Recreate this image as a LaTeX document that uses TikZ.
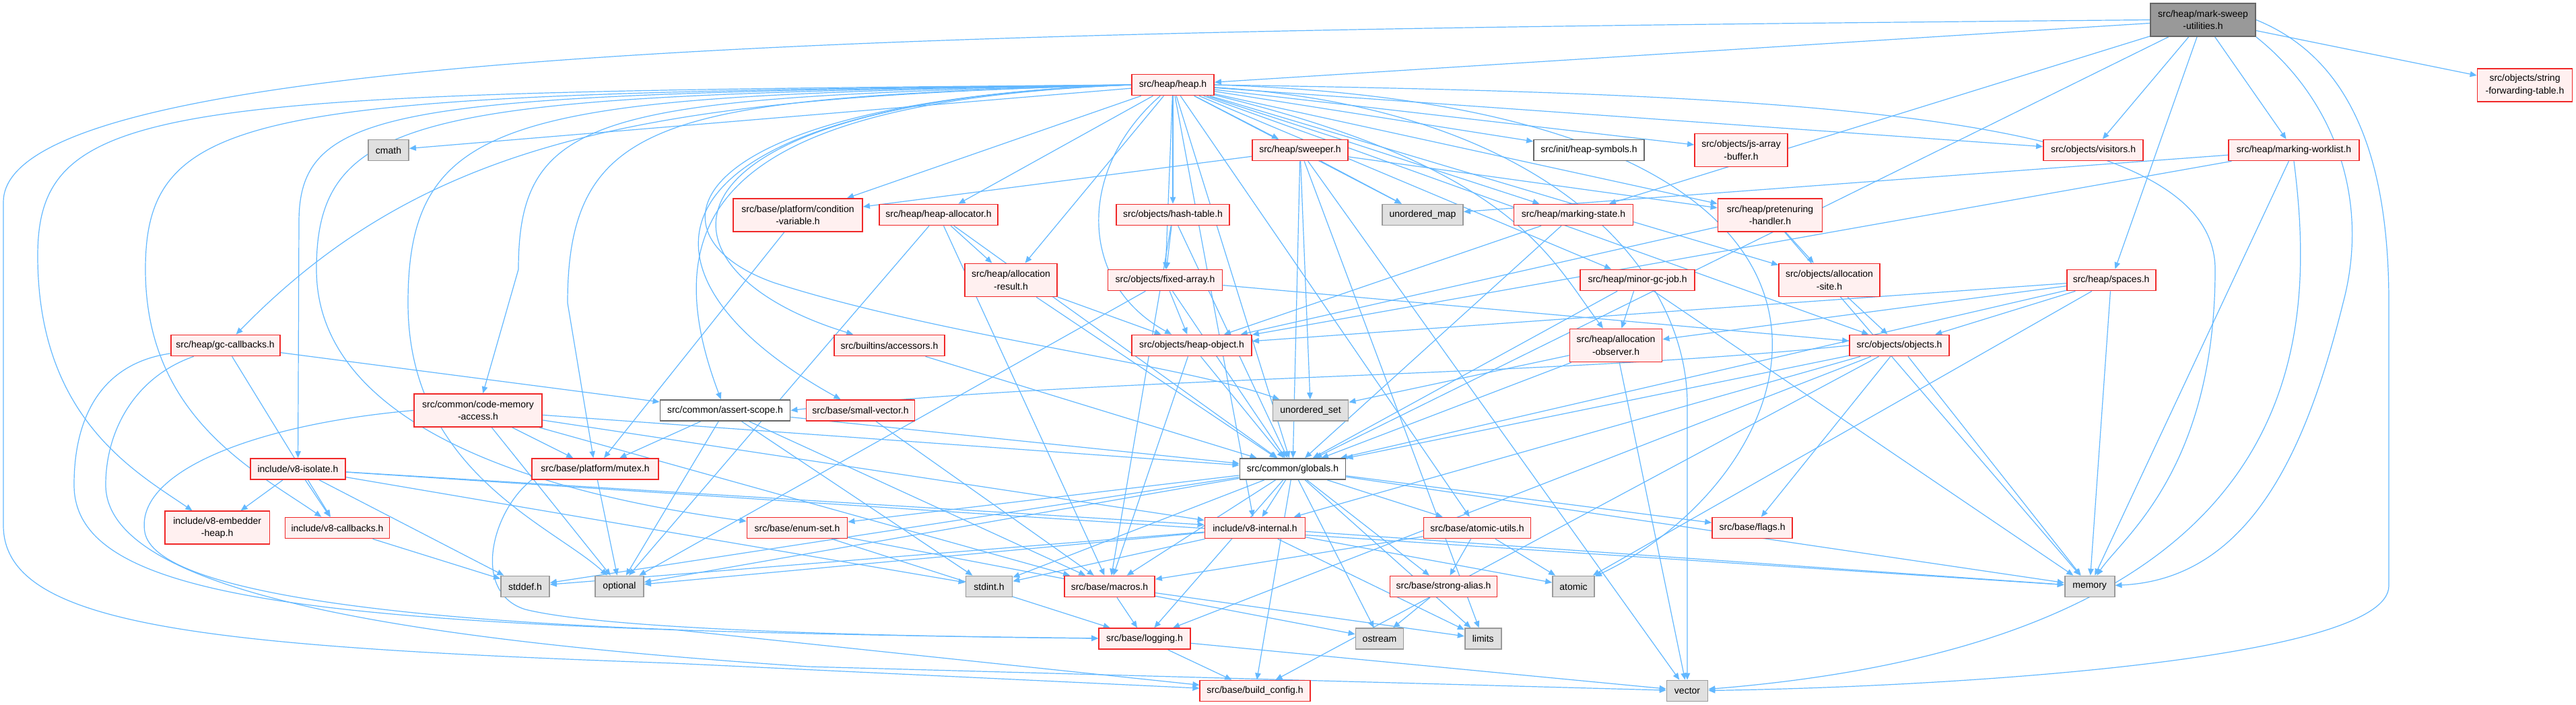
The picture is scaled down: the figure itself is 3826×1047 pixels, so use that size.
\documentclass[tikz,border=0pt]{standalone}
\usepackage{fontspec}
\setmainfont{Liberation Sans}
\usetikzlibrary{arrows.meta,backgrounds}
\definecolor{edgec}{RGB}{99,184,255}
\definecolor{redb}{RGB}{240,40,40}
\definecolor{redf}{RGB}{255,240,240}
\definecolor{grayf}{RGB}{224,224,224}
\definecolor{grayb}{RGB}{153,153,153}
\definecolor{darkb}{RGB}{102,102,102}
\definecolor{rootf}{RGB}{153,153,153}
\begin{document}
\begin{tikzpicture}[x=0.5pt,y=-0.5pt,
  nbase/.style={inner xsep=1pt, inner ysep=0pt, minimum height=15.5pt, align=center, font=\fontsize{7}{9.2}\selectfont, line width=0.9pt},
  rn/.style={nbase, draw=redb, fill=redf},
  gn/.style={nbase, draw=grayb, fill=grayf},
  wn/.style={nbase, draw=darkb, fill=white},
  rootn/.style={nbase, draw=darkb, fill=rootf},
  tl/.style={minimum height=24.5pt},
  mw/.style={minimum width=#1pt},
  e/.style={draw=edgec, line width=0.6pt, -{Triangle[length=5pt,width=4.2pt]}}
]
\useasboundingbox (0,0) rectangle (3826,1047);
% nodes
\node[rootn,tl,mw=78] (ms) at (3272,29.5) {src/heap/mark-sweep\\-utilities.h};
\node[rn,mw=61] (heap) at (1742,126) {src/heap/heap.h};
\node[rn,tl,mw=70.5] (sfwd) at (3750,126.5) {src/objects/string\\-forwarding-table.h};
\node[gn,mw=30] (cmath) at (577,223) {cmath};
\node[rn,mw=71] (sweeper) at (1931,223) {src/heap/sweeper.h};
\node[wn,mw=82] (hsym) at (2360,223) {src/init/heap-symbols.h};
\node[rn,tl,mw=69] (jsab) at (2586,223) {src/objects/js-array\\-buffer.h};
\node[rn,mw=74] (visitors) at (3109,223) {src/objects/visitors.h};
\node[rn,mw=97] (mwl) at (3407,223) {src/heap/marking-worklist.h};
\node[rn,tl,mw=96] (condvar) at (1185,319.5) {src/base/platform/condition\\-variable.h};
\node[rn,mw=88] (halloc) at (1394,319) {src/heap/heap-allocator.h};
\node[rn,mw=84] (hasht) at (1742,319) {src/objects/hash-table.h};
\node[gn,mw=60] (umap) at (2113,319) {unordered\_map};
\node[rn,mw=88.5] (mstate) at (2337,319) {src/heap/marking-state.h};
\node[rn,tl,mw=77.5] (pret) at (2629,319.5) {src/heap/pretenuring\\-handler.h};
\node[rn,tl,mw=68.5] (ares) at (1501.5,416) {src/heap/allocation\\-result.h};
\node[rn,mw=85] (farr) at (1730.5,416) {src/objects/fixed-array.h};
\node[rn,mw=85] (mgc) at (2432,416) {src/heap/minor-gc-job.h};
\node[rn,tl,mw=75] (asite) at (2717,416) {src/objects/allocation\\-site.h};
\node[rn,mw=66] (spaces) at (3135.6,416) {src/heap/spaces.h};
\node[rn,mw=81] (gccb) at (334.6,513) {src/heap/gc-callbacks.h};
\node[rn,mw=82] (acc) at (1321,513) {src/builtins/accessors.h};
\node[rn,mw=89] (hobj) at (1770,513) {src/objects/heap-object.h};
\node[rn,tl,mw=68.5] (aobs) at (2400,513) {src/heap/allocation\\-observer.h};
\node[rn,mw=74] (objs) at (2821,513) {src/objects/objects.h};
\node[rn,tl,mw=95] (cma) at (710,609.5) {src/common/code-memory\\-access.h};
\node[wn,mw=96.5] (ascope) at (1077,609.5) {src/common/assert-scope.h};
\node[rn,mw=80.5] (svec) at (1278,609.5) {src/base/small-vector.h};
\node[gn,mw=56] (uset) at (1946.5,609.5) {unordered\_set};
\node[rn,mw=70.75] (iso) at (442.5,696.5) {include/v8-isolate.h};
\node[rn,mw=93.75] (mutex) at (884,696.5) {src/base/platform/mutex.h};
\node[wn,mw=78.5] (glob) at (1920,696.5) {src/common/globals.h};
\node[rn,tl,mw=77.75] (emb) at (322.7,783.7) {include/v8-embedder\\-heap.h};
\node[rn,mw=77.5] (cbs) at (501,784) {include/v8-callbacks.h};
\node[rn,mw=74.5] (enumset) at (1184,784) {src/base/enum-set.h};
\node[rn,mw=74.5] (v8int) at (1864,784) {include/v8-internal.h};
\node[rn,mw=79.5] (autils) at (2194,784) {src/base/atomic-utils.h};
\node[rn,mw=59.5] (flags) at (2602.6,784) {src/base/flags.h};
\node[gn,mw=36] (stddef) at (780,871) {stddef.h};
\node[gn,mw=36] (opt) at (920,871) {optional};
\node[gn,mw=34.5] (stdint) at (1469,871) {stdint.h};
\node[rn,mw=67] (macros) at (1648,871) {src/base/macros.h};
\node[rn,mw=79.5] (salias) at (2144,871) {src/base/strong-alias.h};
\node[gn,mw=31] (atomic) at (2337,871) {atomic};
\node[gn,mw=37] (memory) at (3103.6,871) {memory};
\node[rn,mw=68] (logging) at (1700,948.7) {src/base/logging.h};
\node[gn,mw=35.5] (ostream) at (2049,948.7) {ostream};
\node[gn,mw=27] (limits) at (2202.7,948.7) {limits};
\node[rn,mw=81.75] (bconf) at (1864,1026) {src/base/build\_config.h};
\node[gn,mw=30.5] (vector) at (2506,1026) {vector};
% edges
\begin{scope}[on background layer]
% mark-sweep-utilities
\draw[e] (ms) -- (heap);
\draw[e] (ms) -- (sfwd);
\draw[e] (ms) -- (visitors);
\draw[e] (ms) -- (mwl);
\draw[e] (ms) -- (mstate);
\draw[e] (ms) -- (spaces);
\draw[e] (ms) -- (glob);
\draw[e] (ms.south east) .. controls (3470,150) and (3520,300) .. (3480,450) .. controls (3430,650) and (3350,860) .. (memory);
\draw[e] (ms.east) .. controls (3500,90) and (3548,250) .. (3548,450) -- (3548,870) .. controls (3548,980) and (2900,1020) .. (vector);
\draw[e] (ms.west) .. controls (1500,45) and (5,60) .. (5,300) -- (5,780) .. controls (5,930) and (300,960) .. (1000,985) -- (bconf);
% heap.h
\draw[e] (heap) -- (cmath);
\draw[e] (heap) -- (sweeper);
\draw[e] (heap) -- (hsym);
\draw[e] (heap) -- (jsab);
\draw[e] (heap) -- (visitors);
\draw[e] (heap) -- (condvar);
\draw[e] (heap) -- (halloc);
\draw[e] (heap) -- (hasht);
\draw[e] (heap) -- (umap);
\draw[e] (heap) -- (mstate);
\draw[e] (heap) -- (pret);
\draw[e] (heap) -- (ares);
\draw[e] (heap) -- (farr);
\draw[e] (heap) -- (mgc);
\draw[e] (heap) -- (asite);
\draw[e] (heap.west) .. controls (1000,145) and (650,190) .. (gccb);
\draw[e] (heap.west) .. controls (950,150) and (950,400) .. (acc);
\draw[e] (heap) .. controls (1600,250) and (1600,420) .. (hobj);
\draw[e] (heap) .. controls (2250,250) and (2300,380) .. (aobs);
\draw[e] (heap) -- (objs);
\draw[e] (heap.west) .. controls (900,145) and (770,160) .. (770,400) -- (cma);
\draw[e] (heap.west) .. controls (1100,150) and (960,300) .. (ascope);
\draw[e] (heap.west) .. controls (950,150) and (900,400) .. (svec);
\draw[e] (heap.west) .. controls (1000,150) and (950,350) .. (1150,420) .. controls (1400,500) and (1750,540) .. (uset);
\draw[e] (heap.west) .. controls (600,140) and (444,150) .. (444,330) -- (iso);
\draw[e] (heap.west) .. controls (1000,146) and (843,165) .. (843,450) -- (mutex);
\draw[e] (heap) -- (glob);
\draw[e] (heap.west) .. controls (250,138) and (56,145) .. (56,380) .. controls (56,620) and (200,700) .. (emb);
\draw[e] (heap.west) .. controls (400,140) and (216,150) .. (216,400) .. controls (216,620) and (380,700) .. (cbs);
\draw[e] (heap.west) .. controls (650,142) and (470,155) .. (470,400) .. controls (470,650) and (850,740) .. (enumset);
\draw[e] (heap) -- (v8int);
\draw[e] (heap) -- (autils);
\draw[e] (heap.east) .. controls (2900,160) and (2700,700) .. (atomic);
\draw[e] (heap.west) .. controls (780,143) and (606,155) .. (606,450) .. controls (606,700) and (820,780) .. (opt);
\draw[e] (heap.east) .. controls (2700,140) and (3290,170) .. (3290,400) .. controls (3290,700) and (3150,800) .. (memory);
\draw[e] (heap) .. controls (2300,160) and (2506,400) .. (2506,600) -- (vector);
% sweeper
\draw[e] (sweeper) -- (condvar);
\draw[e] (sweeper) -- (pret);
\draw[e] (sweeper) -- (umap);
\draw[e] (sweeper) -- (uset);
\draw[e] (sweeper) -- (glob);
\draw[e] (sweeper) -- (limits);
\draw[e] (sweeper) -- (vector);
% marking-worklist
\draw[e] (mwl) -- (umap);
\draw[e] (mwl) -- (hobj);
\draw[e] (mwl) -- (memory);
\draw[e] (mwl.south) .. controls (3440,500) and (3440,950) .. (vector);
% others
\draw[e] (condvar) -- (mutex);
\draw[e] (halloc) -- (ares);
\draw[e] (halloc) -- (glob);
\draw[e] (halloc) -- (macros);
\draw[e] (halloc) -- (opt);
\draw[e] (hasht) -- (farr);
\draw[e] (hasht) -- (glob);
\draw[e] (hasht) -- (macros);
\draw[e] (mstate) -- (hobj);
\draw[e] (mstate) -- (glob);
\draw[e] (pret) -- (asite);
\draw[e] (pret) -- (hobj);
\draw[e] (pret) -- (memory);
\draw[e] (ares) -- (hobj);
\draw[e] (ares) -- (glob);
\draw[e] (farr) -- (hobj);
\draw[e] (farr) -- (objs);
\draw[e] (farr) -- (glob);
\draw[e] (farr) -- (opt);
\draw[e] (mgc) -- (aobs);
\draw[e] (mgc) -- (glob);
\draw[e] (mgc) -- (memory);
\draw[e] (asite) -- (objs);
\draw[e] (spaces) -- (objs);
\draw[e] (spaces) -- (hobj);
\draw[e] (spaces) -- (aobs);
\draw[e] (spaces) -- (glob);
\draw[e] (spaces) -- (atomic);
\draw[e] (spaces) -- (memory);
\draw[e] (gccb) -- (cbs);
\draw[e] (gccb) -- (ascope);
\draw[e] (gccb) .. controls (150,540) and (110,620) .. (110,720) .. controls (110,900) and (500,935) .. (logging);
\draw[e] (gccb) .. controls (200,560) and (157,640) .. (157,720) .. controls (157,880) and (600,950) .. (1200,990) -- (vector);
\draw[e] (acc) -- (glob);
\draw[e] (hobj) -- (glob);
\draw[e] (hobj) -- (macros);
\draw[e] (aobs) -- (uset);
\draw[e] (aobs) -- (glob);
\draw[e] (aobs) -- (vector);
\draw[e] (objs.west) .. controls (2300,560) and (1600,560) .. (ascope.east);
\draw[e] (objs) -- (glob);
\draw[e] (objs) -- (flags);
\draw[e] (objs) -- (v8int);
\draw[e] (objs) -- (logging);
\draw[e] (objs) -- (bconf);
\draw[e] (objs) -- (memory);
\draw[e] (cma) -- (mutex);
\draw[e] (cma) -- (glob);
\draw[e] (cma) -- (opt);
\draw[e] (cma) -- (v8int);
\draw[e] (cma) -- (macros);
\draw[e] (cma.west) .. controls (380,630) and (200,700) .. (215,790) .. controls (230,880) and (600,920) .. (1000,935) -- (bconf);
\draw[e] (ascope) -- (mutex);
\draw[e] (ascope) -- (opt);
\draw[e] (ascope) -- (stdint);
\draw[e] (ascope) -- (macros);
\draw[e] (ascope) -- (glob);
\draw[e] (svec) -- (macros);
\draw[e] (iso) -- (emb);
\draw[e] (iso) -- (cbs);
\draw[e] (iso) -- (stddef);
\draw[e] (iso) -- (stdint);
\draw[e] (iso) -- (memory);
\draw[e] (iso) -- (v8int);
\draw[e] (mutex) -- (opt);
\draw[e] (mutex.south west) .. controls (730,760) and (700,880) .. (780,905) .. controls (900,935) and (1300,945) .. (logging);
\draw[e] (glob) -- (v8int);
\draw[e] (glob) -- (autils);
\draw[e] (glob) -- (flags);
\draw[e] (glob) -- (enumset);
\draw[e] (glob) -- (salias);
\draw[e] (glob) -- (ostream);
\draw[e] (glob) -- (limits);
\draw[e] (glob) -- (stdint);
\draw[e] (glob) -- (macros);
\draw[e] (glob) -- (logging);
\draw[e] (glob) -- (bconf);
\draw[e] (glob) -- (stddef);
\draw[e] (glob) -- (opt);
\draw[e] (glob) -- (memory);
\draw[e] (cbs) -- (stddef);
\draw[e] (enumset) -- (logging);
\draw[e] (enumset) -- (ostream);
\draw[e] (v8int) -- (opt);
\draw[e] (v8int) -- (stdint);
\draw[e] (v8int) -- (limits);
\draw[e] (v8int) -- (memory);
\draw[e] (v8int) -- (atomic);
\draw[e] (v8int) -- (stddef);
\draw[e] (autils) -- (macros);
\draw[e] (autils) -- (salias);
\draw[e] (autils) -- (atomic);
\draw[e] (salias) -- (ostream);
\draw[e] (macros) -- (logging);
\draw[e] (macros) -- (limits);
\draw[e] (logging) -- (bconf);
\draw[e] (logging) -- (vector);
\end{scope}
\end{tikzpicture}
\end{document}
